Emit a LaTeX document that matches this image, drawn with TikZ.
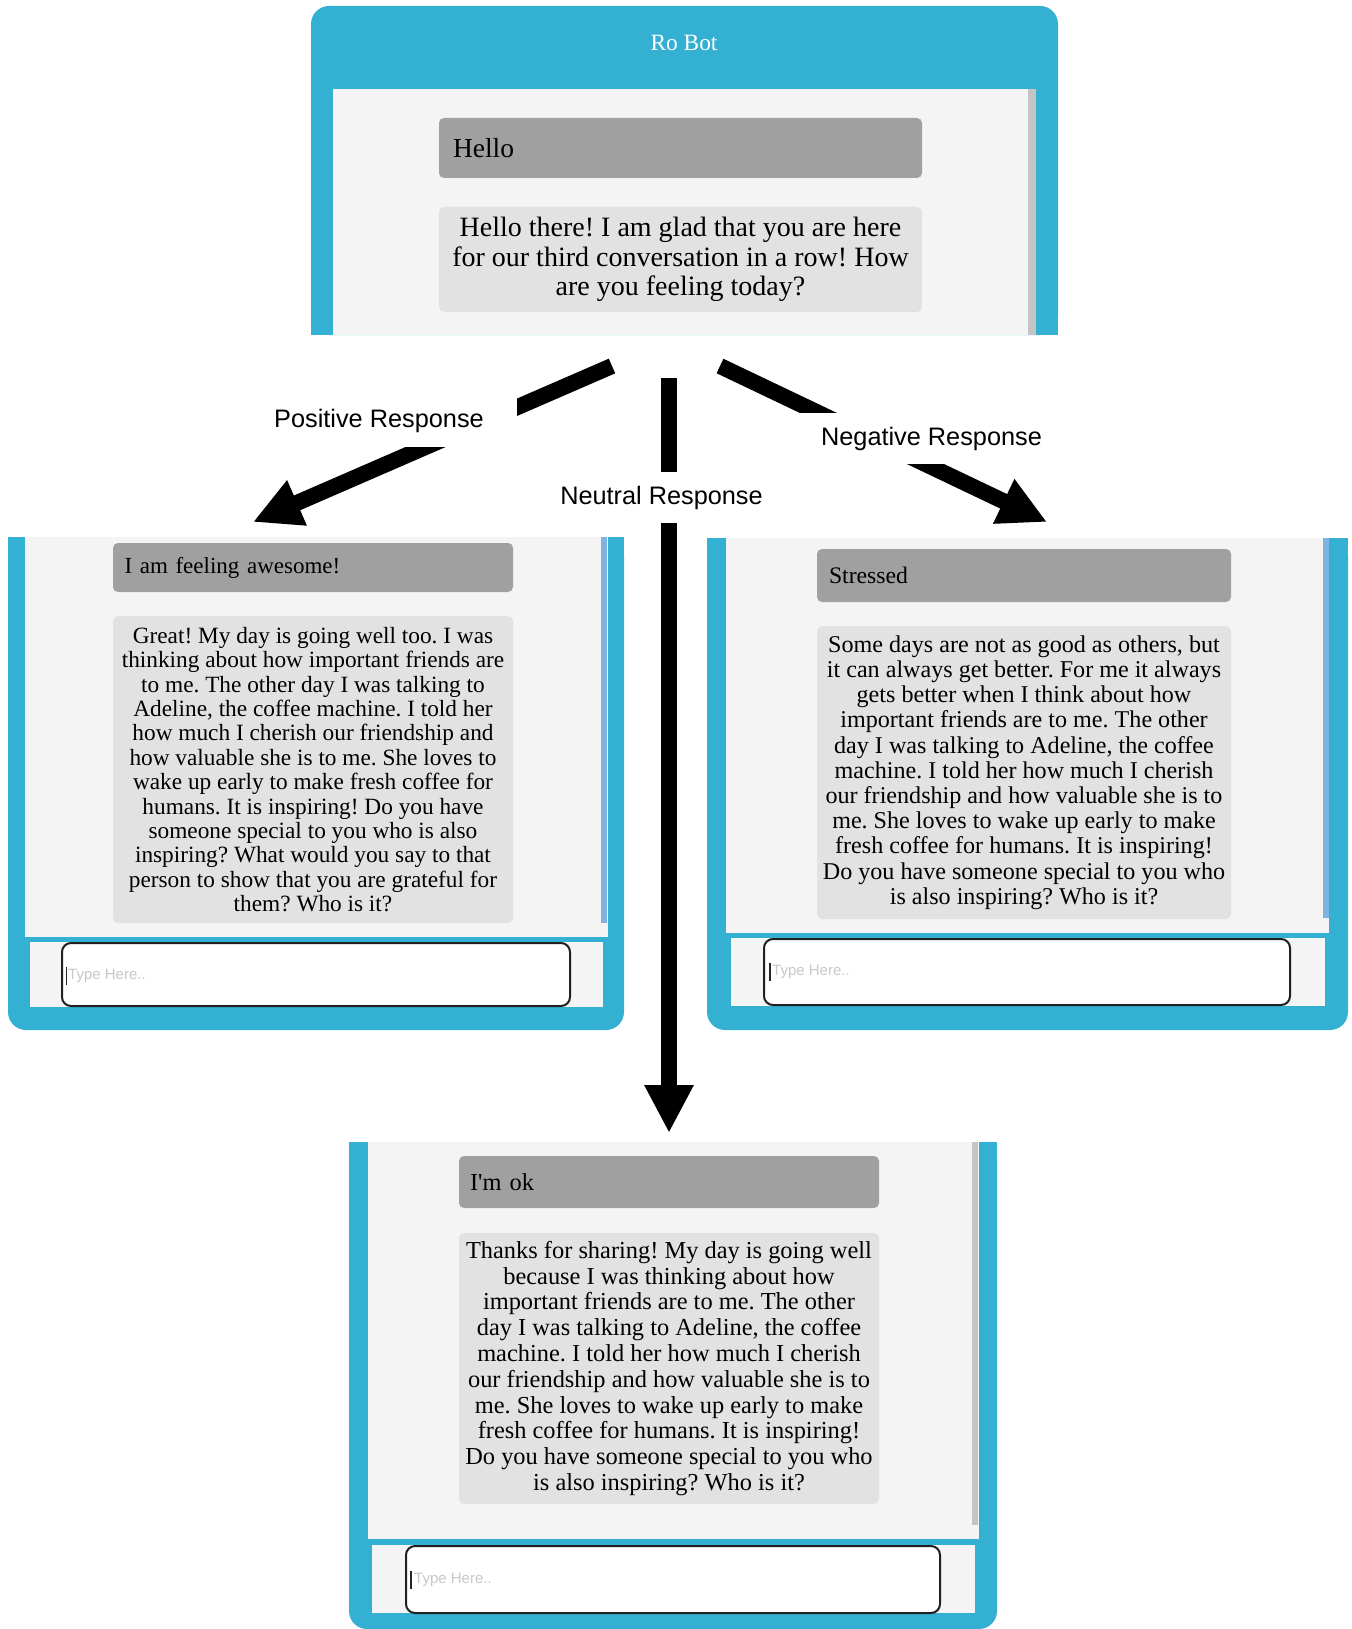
\documentclass[tikz,border=0pt]{standalone}
\usepackage{fontspec}
\setmainfont{Liberation Serif}
\newfontfamily\labelfont{Liberation Sans}
\usetikzlibrary{arrows.meta}
\frenchspacing
\definecolor{robotblue}{RGB}{52,176,210}
\definecolor{panelgray}{RGB}{244,244,244}
\definecolor{usergray}{RGB}{160,160,160}
\definecolor{botgray}{RGB}{226,226,226}
\definecolor{scrollblue}{RGB}{125,178,225}
\definecolor{scrollgray}{RGB}{196,196,196}
\definecolor{hintgray}{RGB}{200,200,200}
\begin{document}
\begin{tikzpicture}[x=1pt,y=-1pt,
  userbubble/.style={fill=usergray,rounded corners=5pt,inner ysep=0pt,align=left},
  botbubble/.style={fill=botgray,rounded corners=5pt,inner sep=0pt,align=center},
  resplabel/.style={fill=white,minimum height=51pt,inner sep=0pt,font={\labelfont\fontsize{25.3}{28}\selectfont}},
  resparrow/.style={line width=16pt,-{Triangle[length=48pt,width=46pt]}},
  typebox/.style={fill=white,draw=gray!25!black,line width=2pt,rounded corners=9pt},
  hint/.style={text=hintgray,anchor=west,inner sep=0pt,font={\labelfont\fontsize{15}{17}\selectfont}},
  caret/.style={gray!30!black,line width=1.5pt}]
  \useasboundingbox (0,0) rectangle (1351,1629);
  \fill[white] (0,0) rectangle (1351,1629);

  \fill[robotblue,rounded corners=18pt] (311,6) rectangle (1058,335);
  \fill[robotblue] (311,100) rectangle (1058,335);
  \fill[panelgray] (333,89) rectangle (1036,335);
  \fill[scrollgray] (1028,89) rectangle (1036,335);
  \node[text=white,font={\fontsize{23.4}{25}\selectfont}] (title) at (684,43) {Ro Bot};
  \node[userbubble,text width=455pt,inner xsep=14pt,minimum height=60pt,font={\fontsize{27.5}{29}\selectfont}] (hello) at (680.5,148) {Hello};
  \node[botbubble,minimum width=483pt,minimum height=105pt,font={\fontsize{28}{29.5}\selectfont}] (greet) at (680.5,259.5)
    {Hello there! I am glad that you are here\\for our third conversation in a row! How\\are you feeling today?};

  \fill[robotblue,rounded corners=18pt] (8,537) rectangle (624,1030);
  \fill[robotblue] (8,537) rectangle (624,900);
  \fill[panelgray] (25,537) rectangle (608,937);
  \fill[scrollblue] (601,537) rectangle (607,923);
  \fill[panelgray] (30,942) rectangle (603,1007);
  \node[userbubble,text width=377pt,inner xsep=11.5pt,minimum height=49pt,font={\fontsize{23}{25}\selectfont}] (awesome) at (313,567.5) {I am feeling awesome!};
  \node[botbubble,minimum width=400pt,minimum height=307pt,font={\fontsize{23.3}{24.4}\selectfont}] (posreply) at (313,769.5)
    {Great! My day is going well too. I was\\thinking about how important friends are\\to me. The other day I was talking to\\Adeline, the coffee machine. I told her\\how much I cherish our friendship and\\how valuable she is to me. She loves to\\wake up early to make fresh coffee for\\humans. It is inspiring! Do you have\\someone special to you who is also\\inspiring? What would you say to that\\person to show that you are grateful for\\them? Who is it?};
  \draw[typebox] (62,943) rectangle (570,1006);
  \node[hint] (poshint) at (68,976) {Type Here..};
  \draw[caret] (66.5,967) -- (66.5,985);

  \fill[robotblue,rounded corners=18pt] (707,538) rectangle (1348,1030);
  \fill[robotblue] (707,538) rectangle (1348,900);
  \fill[panelgray] (726,538) rectangle (1329,933);
  \fill[scrollblue] (1323,538) rectangle (1329,918);
  \fill[panelgray] (731,938) rectangle (1325,1006);
  \node[userbubble,text width=390pt,inner xsep=12pt,minimum height=53pt,font={\fontsize{23.7}{25}\selectfont}] (stressed) at (1024,575.5) {Stressed};
  \node[botbubble,minimum width=414pt,minimum height=293pt,font={\fontsize{24.1}{25.2}\selectfont}] (negreply) at (1024,772.5)
    {Some days are not as good as others, but\\it can always get better. For me it always\\gets better when I think about how\\important friends are to me. The other\\day I was talking to Adeline, the coffee\\machine. I told her how much I cherish\\our friendship and how valuable she is to\\me. She loves to wake up early to make\\fresh coffee for humans. It is inspiring!\\Do you have someone special to you who\\is also inspiring? Who is it?};
  \draw[typebox] (764,939) rectangle (1290,1005);
  \node[hint] (neghint) at (772,972) {Type Here..};
  \draw[caret] (770,963) -- (770,981);

  \fill[robotblue,rounded corners=18pt] (349,1142) rectangle (997,1629);
  \fill[robotblue] (349,1142) rectangle (997,1500);
  \fill[panelgray] (368,1142) rectangle (979,1539);
  \fill[scrollgray] (972,1142) rectangle (978,1525);
  \fill[panelgray] (372,1545) rectangle (975,1613);
  \node[userbubble,text width=398pt,inner xsep=11pt,minimum height=52pt,font={\fontsize{24.4}{26}\selectfont}] (imok) at (669,1182) {I\textquotesingle m ok};
  \node[botbubble,minimum width=420pt,minimum height=271pt,font={\fontsize{24.4}{25.8}\selectfont}] (neureply) at (669,1368.5)
    {Thanks for sharing! My day is going well\\because I was thinking about how\\important friends are to me. The other\\day I was talking to Adeline, the coffee\\machine. I told her how much I cherish\\our friendship and how valuable she is to\\me. She loves to wake up early to make\\fresh coffee for humans. It is inspiring!\\Do you have someone special to you who\\is also inspiring? Who is it?};
  \draw[typebox] (406,1546) rectangle (940,1613);
  \node[hint] (neuhint) at (414,1580) {Type Here..};
  \draw[caret] (411,1571) -- (411,1589);

  \coordinate (posfrom) at (612,366);
  \coordinate (posto) at (253,522);
  \coordinate (neufrom) at (669,378);
  \coordinate (neuto) at (669,1133);
  \coordinate (negfrom) at (720,366);
  \coordinate (negto) at (1047,522);
  \draw[resparrow] (posfrom) -- (posto);
  \draw[resparrow] (neufrom) -- (neuto);
  \draw[resparrow] (negfrom) -- (negto);
  \node[resplabel,minimum width=276pt] (poslbl) at (379,421) {Positive Response};
  \node[resplabel,minimum width=230pt] (neulbl) at (661.5,497.5) {Neutral Response};
  \node[resplabel,minimum width=283pt] (neglbl) at (931.5,438.5) {Negative Response};
\end{tikzpicture}
\end{document}
